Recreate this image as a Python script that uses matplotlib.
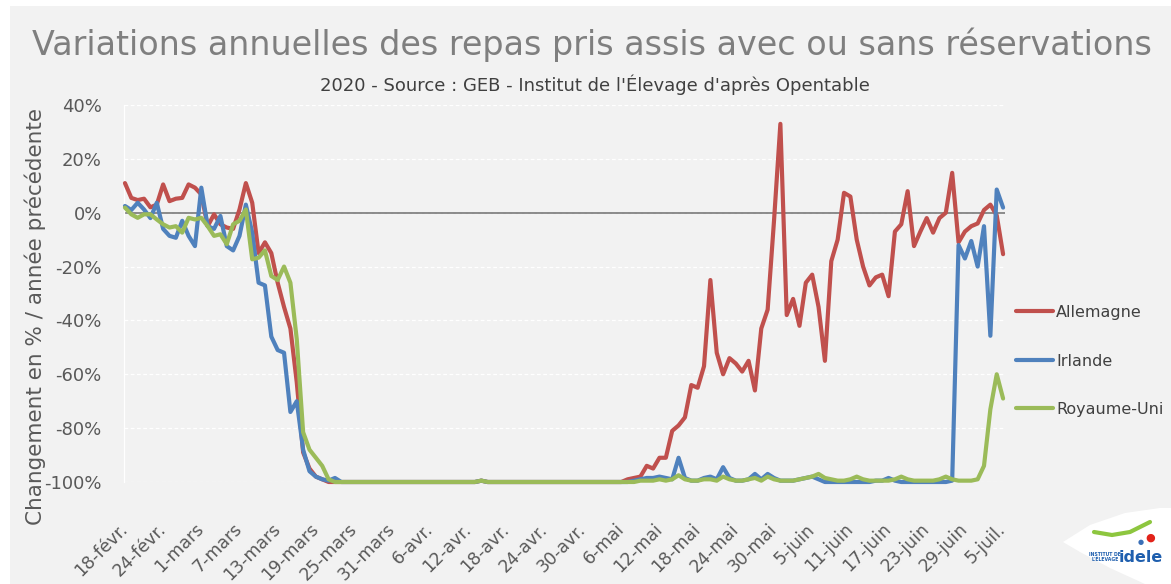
import matplotlib.pyplot as plt
import numpy as np
from matplotlib.patches import Rectangle, Polygon
from matplotlib.lines import Line2D

W, H = 1171, 584

# variation quotidienne (%) du 18 février au 5 juillet 2020
allemagne = [
    11, 5.5, 4.7, 5.2, 2, 3, 10.5, 4.3, 5.2, 5.5,
    10.5, 9.3, 6.8, -5, -0.6, -4.3, -5.5, -6, 1.2, 11,
    3.7, -15, -11, -15, -26, -35, -43, -63, -89, -95,
    -98, -99, -100, -100, -100, -100, -100, -100, -100, -100,
    -100, -100, -100, -100, -100, -100, -100, -100, -100, -100,
    -100, -100, -100, -100, -100, -100, -99.5, -100, -100, -100,
    -100, -100, -100, -100, -100, -100, -100, -100, -100, -100,
    -100, -100, -100, -100, -100, -100, -100, -100, -100, -99,
    -98.5, -98, -94, -95, -91, -91, -81, -79, -76, -64,
    -65, -57, -25, -52, -60, -54, -56, -59, -55, -66,
    -43, -36, -3, 33, -38, -32, -42, -26, -23, -35,
    -55, -18, -10, 7.4, 6, -10, -20, -27, -24, -23,
    -31, -7, -4.3, 8, -12.4, -7, -2, -7.4, -2, 0,
    14.8, -11, -7, -5, -4, 1, 3, -1, -15.4,
]
irlande = [
    2.5, 1, 3.7, 1.2, -2, 3.7, -6, -8.6, -9.3, -3,
    -8.6, -12.4, 9.3, -5, -6, -1.2, -12.4, -14, -8.6, 3,
    -7.4, -26, -27, -46, -51, -52, -74, -70, -88, -96,
    -98, -99, -99.5, -98.5, -100, -100, -100, -100, -100, -100,
    -100, -100, -100, -100, -100, -100, -100, -100, -100, -100,
    -100, -100, -100, -100, -100, -100, -99.5, -100, -100, -100,
    -100, -100, -100, -100, -100, -100, -100, -100, -100, -100,
    -100, -100, -100, -100, -100, -100, -100, -100, -100, -100,
    -99.5, -99, -98.5, -98.5, -98, -98.5, -99, -91, -98.5, -99.5,
    -99.5, -98.5, -98, -99, -94.5, -98.5, -99.5, -99.5, -99, -97,
    -99, -97, -98.5, -99.5, -99.5, -99.5, -99, -98.5, -98, -99,
    -100, -100, -100, -100, -100, -100, -100, -100, -99.5, -99.5,
    -98.5, -99.5, -100, -100, -100, -100, -100, -100, -100, -100,
    -99.5, -12, -17, -10.5, -20, -5, -45.7, 8.6, 1.9,
]
royaume_uni = [
    1.9, -0.6, -1.9, -0.6, -0.6, -2.5, -4.3, -5.5, -5, -7.4,
    -1.9, -2.5, -1.9, -5, -8.6, -8, -11.7, -4.3, -3, 1.2,
    -17.3, -16.7, -14, -23.5, -25, -20, -26, -47, -81.5, -88,
    -91, -94, -99, -100, -100, -100, -100, -100, -100, -100,
    -100, -100, -100, -100, -100, -100, -100, -100, -100, -100,
    -100, -100, -100, -100, -100, -100, -99.5, -100, -100, -100,
    -100, -100, -100, -100, -100, -100, -100, -100, -100, -100,
    -100, -100, -100, -100, -100, -100, -100, -100, -100, -100,
    -100, -99.5, -99.5, -99.5, -99, -99.5, -99, -97.5, -99, -99.5,
    -99.5, -99, -99, -99.5, -98, -99, -99.5, -99.5, -99, -98.5,
    -99.5, -98, -99, -99.5, -99.5, -99.5, -99, -98.5, -98, -97,
    -98.5, -99, -99.5, -99.5, -99, -98, -99, -99.5, -99.5, -99.5,
    -99.5, -99, -98, -99, -99.5, -99.5, -99.5, -99.5, -99, -98,
    -99, -99.5, -99.5, -99.5, -99, -94, -73, -60, -69,
]

tick_labels = ['18-févr.', '24-févr.', '1-mars', '7-mars', '13-mars', '19-mars',
               '25-mars', '31-mars', '6-avr.', '12-avr.', '18-avr.', '24-avr.',
               '30-avr.', '6-mai', '12-mai', '18-mai', '24-mai', '30-mai',
               '5-juin', '11-juin', '17-juin', '23-juin', '29-juin', '5-juil.']

series = [('Allemagne', allemagne, '#C0504D'),
          ('Irlande', irlande, '#4F81BD'),
          ('Royaume-Uni', royaume_uni, '#9BBB59')]

plt.rcParams['font.family'] = ['DejaVu Sans']


def px(x, y):
    # pixels depuis le coin haut-gauche -> coordonnées figure
    return x / W, 1 - y / H


fig = plt.figure(figsize=(W / 100, H / 100), dpi=100)
fig.patch.set_facecolor('white')
fig.add_artist(Rectangle((10 / W, 0), 1, (H - 6) / H, transform=fig.transFigure,
                         facecolor='#F2F2F2', edgecolor='none', zorder=0))

ax = fig.add_axes([124 / W, (H - 482) / H, 881 / W, 377 / H])
ax.set_facecolor('none')

days = np.arange(len(allemagne))
for name, vals, col in series:
    ax.plot(days, vals, color=col, lw=3, label=name, solid_joinstyle='round',
            solid_capstyle='round', clip_on=False, zorder=3)

ax.axhline(0, color='#6E6E6E', lw=1.1, zorder=2)
ax.set_ylim(-100, 40)
ax.set_xlim(-0.15, 138.3)
ax.set_yticks(range(-100, 41, 20))
ax.set_yticklabels([f'{v}%' for v in range(-100, 41, 20)])
ax.yaxis.grid(True, color='white', lw=0.9, ls=(0, (3, 2)))
ax.set_axisbelow(True)

ax.set_xticks(range(0, len(allemagne), 6))
ax.set_xticklabels(tick_labels, rotation=45, ha='right', va='center',
                   rotation_mode='anchor')
ax.tick_params(axis='both', length=0, colors='#595959', labelsize=13)
ax.tick_params(axis='x', labelsize=12.5, pad=32)
ax.tick_params(axis='y', pad=16)

for side in ['top', 'right', 'bottom']:
    ax.spines[side].set_visible(False)
ax.spines['left'].set_color('white')
ax.spines['left'].set_linewidth(0.9)

ax.set_ylabel('Changement en % / année précédente', fontsize=15.5,
              color='#595959')
ax.yaxis.set_label_coords(-78 / 881, 0.44)

fig.text(*px(592, 45),
         'Variations annuelles des repas pris assis avec ou sans réservations',
         ha='center', va='center', fontsize=24, color='#7F7F7F')
fig.text(*px(595, 85),
         "2020 - Source : GEB - Institut de l'Élevage d'après Opentable",
         ha='center', va='center', fontsize=13, color='#404040')

leg = ax.legend(loc='center left', bbox_to_anchor=px(1008, 361),
                bbox_transform=fig.transFigure, frameon=False, fontsize=11.5,
                handlelength=2.3, handletextpad=0.2, labelspacing=2.1,
                borderpad=0)
for t in leg.get_texts():
    t.set_color('#404040')

# logo en bas à droite
blob = [(1063, 542), (1090, 525), (1125, 513), (1160, 508), (1171, 508),
        (1171, 584), (1145, 584), (1110, 568), (1080, 552)]
fig.add_artist(Polygon([px(x, y) for x, y in blob], closed=True,
                       transform=fig.transFigure, facecolor='white',
                       edgecolor='none', zorder=1))
swoosh = [(1094, 532), (1112, 535), (1130, 532), (1150, 522)]
fig.add_artist(Line2D([px(x, y)[0] for x, y in swoosh],
                      [px(x, y)[1] for x, y in swoosh],
                      transform=fig.transFigure, color='#8DC63F', lw=3,
                      solid_capstyle='round', zorder=2))
fig.text(*px(1150, 538), '●', color='#E2231A', fontsize=8,
         ha='center', va='center', zorder=2)
fig.text(*px(1141, 542), '●', color='#3A6FB7', fontsize=5,
         ha='center', va='center', zorder=2)
fig.text(*px(1141, 557), 'idele', color='#1F5FAE', fontsize=11.5,
         fontweight='bold', ha='center', va='center', zorder=2)
fig.text(*px(1105, 557), "INSTITUT DE\nL'ÉLEVAGE", color='#1F5FAE',
         fontsize=3.3, fontweight='bold', ha='center', va='center',
         linespacing=1.1, zorder=2)

fig.savefig('out.png', dpi=100)
